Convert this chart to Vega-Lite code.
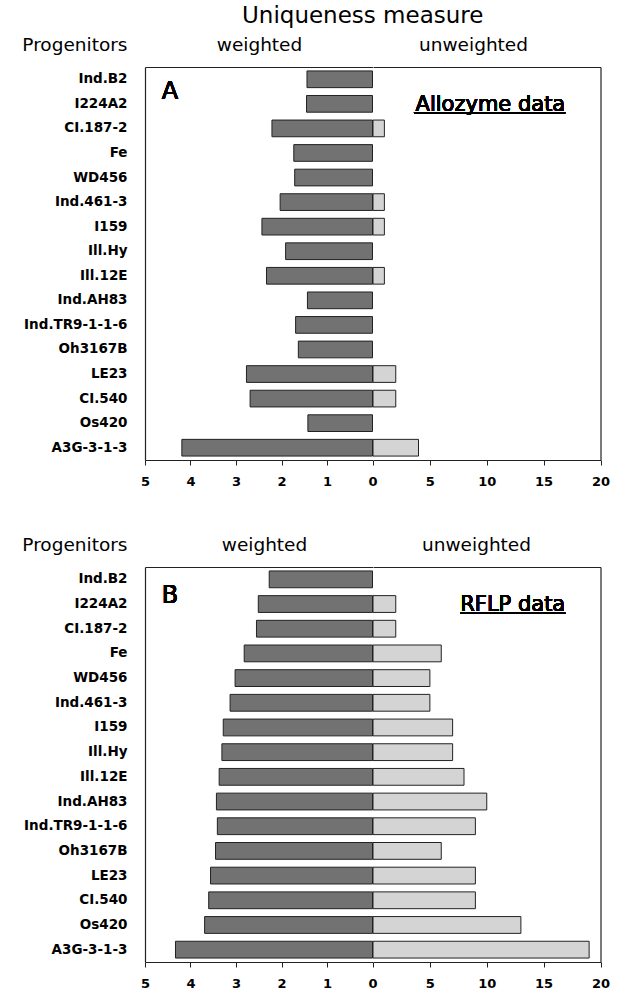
{
  "$schema": "https://vega.github.io/schema/vega-lite/v6.json",
  "background": "white",
  "padding": {"left": 21, "top": 5, "right": 10, "bottom": 5},
  "config": {
    "font": "DejaVu Sans",
    "view": {"stroke": null},
    "title": {"color": "black"},
    "axis": {"labelColor": "black", "titleColor": "black", "grid": false, "domainColor": "#222", "tickColor": "#222", "domainWidth": 1.2}
  },
  "title": {"text": "Uniqueness measure", "fontSize": 23, "fontWeight": "normal", "anchor": "middle", "frame": "bounds", "baseline": "alphabetic", "offset": -11, "dx": 47},
  "datasets": {
    "rows": [
      {"panel": "A", "progenitor": "Ind.B2", "weighted": 1.44, "unweighted": 0},
      {"panel": "A", "progenitor": "I224A2", "weighted": 1.45, "unweighted": 0},
      {"panel": "A", "progenitor": "CI.187-2", "weighted": 2.21, "unweighted": 1},
      {"panel": "A", "progenitor": "Fe", "weighted": 1.73, "unweighted": 0},
      {"panel": "A", "progenitor": "WD456", "weighted": 1.71, "unweighted": 0},
      {"panel": "A", "progenitor": "Ind.461-3", "weighted": 2.03, "unweighted": 1},
      {"panel": "A", "progenitor": "I159", "weighted": 2.43, "unweighted": 1},
      {"panel": "A", "progenitor": "Ill.Hy", "weighted": 1.91, "unweighted": 0},
      {"panel": "A", "progenitor": "Ill.12E", "weighted": 2.33, "unweighted": 1},
      {"panel": "A", "progenitor": "Ind.AH83", "weighted": 1.43, "unweighted": 0},
      {"panel": "A", "progenitor": "Ind.TR9-1-1-6", "weighted": 1.69, "unweighted": 0},
      {"panel": "A", "progenitor": "Oh3167B", "weighted": 1.63, "unweighted": 0},
      {"panel": "A", "progenitor": "LE23", "weighted": 2.77, "unweighted": 2},
      {"panel": "A", "progenitor": "CI.540", "weighted": 2.69, "unweighted": 2},
      {"panel": "A", "progenitor": "Os420", "weighted": 1.42, "unweighted": 0},
      {"panel": "A", "progenitor": "A3G-3-1-3", "weighted": 4.19, "unweighted": 4},
      {"panel": "B", "progenitor": "Ind.B2", "weighted": 2.27, "unweighted": 0},
      {"panel": "B", "progenitor": "I224A2", "weighted": 2.51, "unweighted": 2},
      {"panel": "B", "progenitor": "CI.187-2", "weighted": 2.55, "unweighted": 2},
      {"panel": "B", "progenitor": "Fe", "weighted": 2.82, "unweighted": 6},
      {"panel": "B", "progenitor": "WD456", "weighted": 3.02, "unweighted": 5},
      {"panel": "B", "progenitor": "Ind.461-3", "weighted": 3.13, "unweighted": 5},
      {"panel": "B", "progenitor": "I159", "weighted": 3.28, "unweighted": 7},
      {"panel": "B", "progenitor": "Ill.Hy", "weighted": 3.31, "unweighted": 7},
      {"panel": "B", "progenitor": "Ill.12E", "weighted": 3.37, "unweighted": 8},
      {"panel": "B", "progenitor": "Ind.AH83", "weighted": 3.43, "unweighted": 10},
      {"panel": "B", "progenitor": "Ind.TR9-1-1-6", "weighted": 3.41, "unweighted": 9},
      {"panel": "B", "progenitor": "Oh3167B", "weighted": 3.45, "unweighted": 6},
      {"panel": "B", "progenitor": "LE23", "weighted": 3.56, "unweighted": 9},
      {"panel": "B", "progenitor": "CI.540", "weighted": 3.60, "unweighted": 9},
      {"panel": "B", "progenitor": "Os420", "weighted": 3.69, "unweighted": 13},
      {"panel": "B", "progenitor": "A3G-3-1-3", "weighted": 4.33, "unweighted": 19}
    ]
  },
  "columns": 2,
  "spacing": {"row": 107, "column": 0},
  "bounds": "flush",
  "concat": [
    {
      "width": 227.5, "height": 393,
      "data": {"name": "rows"},
      "transform": [{"filter": "datum.panel == 'A'"}],
      "layer": [
        {
          "mark": {"type": "bar", "fill": "#727272", "stroke": "#222", "strokeWidth": 1},
          "encoding": {
            "y": {"field": "progenitor", "type": "nominal", "sort": null,
              "scale": {"domain": ["Ind.B2","I224A2","CI.187-2","Fe","WD456","Ind.461-3","I159","Ill.Hy","Ill.12E","Ind.AH83","Ind.TR9-1-1-6","Oh3167B","LE23","CI.540","Os420","A3G-3-1-3"], "paddingInner": 0.32, "paddingOuter": 0.16},
              "axis": {"orient": "left", "title": "Progenitors", "titleAngle": 0, "titleAlign": "right", "titleBaseline": "alphabetic", "titleX": -18, "titleY": -17, "titleFontSize": 18.5, "titleFontWeight": "normal", "ticks": false, "labelPadding": 18, "labelFontSize": 13.5, "labelFontWeight": "bold"}},
            "x": {"field": "weighted", "type": "quantitative", "scale": {"domain": [0, 5], "reverse": true, "nice": false, "zero": true},
              "axis": {"orient": "bottom", "values": [0, 1, 2, 3, 4, 5], "format": "d", "title": null, "tickSize": 5, "labelPadding": 10, "labelFontSize": 13, "labelFontWeight": "bold", "labelFlush": false, "labelBound": false, "labelOverlap": false}}
          }
        },
        {
          "mark": {"type": "text", "text": "A", "fontSize": 24, "baseline": "middle", "align": "center", "dy": -12, "color": "black"},
          "encoding": {
            "x": {"datum": 4.45, "type": "quantitative", "scale": {"domain": [0, 5], "reverse": true, "nice": false},
              "axis": {"orient": "top", "labels": false, "ticks": false, "title": "weighted", "titleAngle": 0, "titleAlign": "center", "titleBaseline": "alphabetic", "titleX": 114, "titleY": -17, "titleFontSize": 18.5, "titleFontWeight": "normal"}},
            "y": {"datum": "I224A2", "type": "nominal"}
          }
        }
      ],
      "resolve": {"scale": {"x": "independent"}, "axis": {"x": "independent"}}
    },
    {
      "width": 227.5, "height": 393,
      "data": {"name": "rows"},
      "transform": [{"filter": "datum.panel == 'A'"}],
      "layer": [
        {
          "transform": [{"filter": "datum.unweighted > 0"}],
          "mark": {"type": "bar", "fill": "#d4d4d4", "stroke": "#222", "strokeWidth": 1},
          "encoding": {
            "y": {"field": "progenitor", "type": "nominal", "sort": null,
              "scale": {"domain": ["Ind.B2","I224A2","CI.187-2","Fe","WD456","Ind.461-3","I159","Ill.Hy","Ill.12E","Ind.AH83","Ind.TR9-1-1-6","Oh3167B","LE23","CI.540","Os420","A3G-3-1-3"], "paddingInner": 0.32, "paddingOuter": 0.16},
              "axis": {"orient": "right", "labels": false, "ticks": false, "title": null}},
            "x": {"field": "unweighted", "type": "quantitative", "scale": {"domain": [0, 20], "nice": false},
              "axis": {"orient": "bottom", "values": [5, 10, 15, 20], "format": "d", "title": null, "tickSize": 5, "labelPadding": 10, "labelFontSize": 13, "labelFontWeight": "bold", "labelFlush": false, "labelBound": false, "labelOverlap": false}}
          }
        },
        {
          "layer": [
            {
              "mark": {"type": "text", "text": "Allozyme data", "fontSize": 21, "baseline": "alphabetic", "align": "right", "dy": 7, "color": "black"},
              "encoding": {
                "x": {"datum": 16.9, "type": "quantitative", "scale": {"domain": [0, 20], "nice": false},
                  "axis": {"orient": "top", "labels": false, "ticks": false, "title": "unweighted", "titleAngle": 0, "titleAlign": "center", "titleBaseline": "alphabetic", "titleX": 100, "titleY": -17, "titleFontSize": 18.5, "titleFontWeight": "normal"}},
                "y": {"datum": "I224A2", "type": "nominal"}
              }
            },
            {
              "mark": {"type": "rule", "color": "black", "strokeWidth": 1.2, "yOffset": 9},
              "encoding": {
                "x": {"datum": 3.6, "type": "quantitative", "scale": {"domain": [0, 20], "nice": false}},
                "x2": {"datum": 16.9},
                "y": {"datum": "I224A2", "type": "nominal"}
              }
            }
          ]
        }
      ],
      "resolve": {"scale": {"x": "independent"}, "axis": {"x": "independent"}}
    },
    {
      "width": 227.5, "height": 395,
      "data": {"name": "rows"},
      "transform": [{"filter": "datum.panel == 'B'"}],
      "layer": [
        {
          "mark": {"type": "bar", "fill": "#727272", "stroke": "#222", "strokeWidth": 1},
          "encoding": {
            "y": {"field": "progenitor", "type": "nominal", "sort": null,
              "scale": {"domain": ["Ind.B2","I224A2","CI.187-2","Fe","WD456","Ind.461-3","I159","Ill.Hy","Ill.12E","Ind.AH83","Ind.TR9-1-1-6","Oh3167B","LE23","CI.540","Os420","A3G-3-1-3"], "paddingInner": 0.32, "paddingOuter": 0.16},
              "axis": {"orient": "left", "title": "Progenitors", "titleAngle": 0, "titleAlign": "right", "titleBaseline": "alphabetic", "titleX": -18, "titleY": -17, "titleFontSize": 18.5, "titleFontWeight": "normal", "ticks": false, "labelPadding": 18, "labelFontSize": 13.5, "labelFontWeight": "bold"}},
            "x": {"field": "weighted", "type": "quantitative", "scale": {"domain": [0, 5], "reverse": true, "nice": false, "zero": true},
              "axis": {"orient": "bottom", "values": [0, 1, 2, 3, 4, 5], "format": "d", "title": null, "tickSize": 5, "labelPadding": 10, "labelFontSize": 13, "labelFontWeight": "bold", "labelFlush": false, "labelBound": false, "labelOverlap": false}}
          }
        },
        {
          "mark": {"type": "text", "text": "B", "fontSize": 24, "baseline": "middle", "align": "center", "dy": -8, "color": "black"},
          "encoding": {
            "x": {"datum": 4.45, "type": "quantitative", "scale": {"domain": [0, 5], "reverse": true, "nice": false},
              "axis": {"orient": "top", "labels": false, "ticks": false, "title": "weighted", "titleAngle": 0, "titleAlign": "center", "titleBaseline": "alphabetic", "titleX": 119, "titleY": -17, "titleFontSize": 18.5, "titleFontWeight": "normal"}},
            "y": {"datum": "I224A2", "type": "nominal"}
          }
        }
      ],
      "resolve": {"scale": {"x": "independent"}, "axis": {"x": "independent"}}
    },
    {
      "width": 227.5, "height": 395,
      "data": {"name": "rows"},
      "transform": [{"filter": "datum.panel == 'B'"}],
      "layer": [
        {
          "transform": [{"filter": "datum.unweighted > 0"}],
          "mark": {"type": "bar", "fill": "#d4d4d4", "stroke": "#222", "strokeWidth": 1},
          "encoding": {
            "y": {"field": "progenitor", "type": "nominal", "sort": null,
              "scale": {"domain": ["Ind.B2","I224A2","CI.187-2","Fe","WD456","Ind.461-3","I159","Ill.Hy","Ill.12E","Ind.AH83","Ind.TR9-1-1-6","Oh3167B","LE23","CI.540","Os420","A3G-3-1-3"], "paddingInner": 0.32, "paddingOuter": 0.16},
              "axis": {"orient": "right", "labels": false, "ticks": false, "title": null}},
            "x": {"field": "unweighted", "type": "quantitative", "scale": {"domain": [0, 20], "nice": false},
              "axis": {"orient": "bottom", "values": [5, 10, 15, 20], "format": "d", "title": null, "tickSize": 5, "labelPadding": 10, "labelFontSize": 13, "labelFontWeight": "bold", "labelFlush": false, "labelBound": false, "labelOverlap": false}}
          }
        },
        {
          "layer": [
            {
              "mark": {"type": "text", "text": "RFLP data", "fontSize": 21, "baseline": "alphabetic", "align": "right", "dy": 7, "color": "black"},
              "encoding": {
                "x": {"datum": 16.9, "type": "quantitative", "scale": {"domain": [0, 20], "nice": false},
                  "axis": {"orient": "top", "labels": false, "ticks": false, "title": "unweighted", "titleAngle": 0, "titleAlign": "center", "titleBaseline": "alphabetic", "titleX": 103, "titleY": -17, "titleFontSize": 18.5, "titleFontWeight": "normal"}},
                "y": {"datum": "I224A2", "type": "nominal"}
              }
            },
            {
              "mark": {"type": "rule", "color": "black", "strokeWidth": 1.2, "yOffset": 9},
              "encoding": {
                "x": {"datum": 7.7, "type": "quantitative", "scale": {"domain": [0, 20], "nice": false}},
                "x2": {"datum": 16.9},
                "y": {"datum": "I224A2", "type": "nominal"}
              }
            }
          ]
        }
      ],
      "resolve": {"scale": {"x": "independent"}, "axis": {"x": "independent"}}
    }
  ]
}
